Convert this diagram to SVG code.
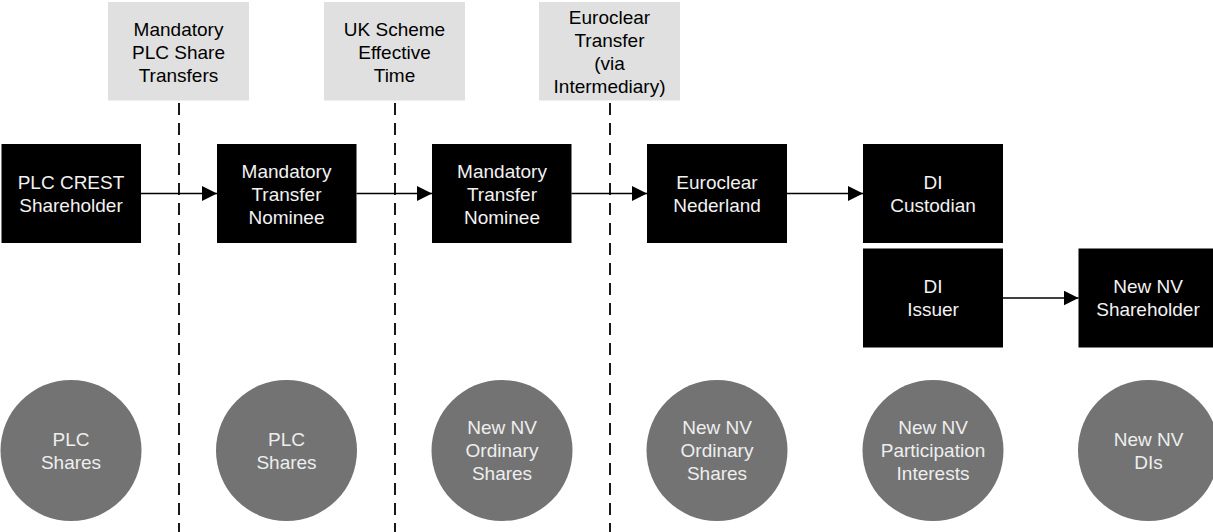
<svg xmlns="http://www.w3.org/2000/svg" width="1213" height="532" viewBox="0 0 1213 532">
<style>
.t{font-family:"Liberation Sans",Arial,sans-serif;font-size:19px;text-anchor:middle}
.box{fill:#000}
.bt{fill:#f2f2f2}
.lbl{fill:#e0e0e0}
.lt{fill:#000}
.circ{fill:#737373}
.ct{fill:#eeeeee}
.conn{stroke:#000;stroke-width:1.5;fill:none}
.dash{stroke:#000;stroke-width:1.8;stroke-dasharray:12 8;fill:none}
</style>
<defs>
<marker id="ah" viewBox="0 0 15 15" refX="15" refY="7.5" markerWidth="15" markerHeight="15" markerUnits="userSpaceOnUse" orient="auto">
<path d="M0,0 L15,7.5 L0,15 z" fill="#000"/>
</marker>
</defs>
<rect width="1213" height="532" fill="#fff"/>

<g id="label-mandatory-transfers">
<rect class="lbl" x="108" y="2" width="141" height="98.5"/>
<text class="t lt" x="178.5" y="36">Mandatory</text>
<text class="t lt" x="178.5" y="59">PLC Share</text>
<text class="t lt" x="178.5" y="82">Transfers</text>
</g>
<g id="label-uk-scheme">
<rect class="lbl" x="324" y="2" width="141" height="98.5"/>
<text class="t lt" x="394.5" y="36">UK Scheme</text>
<text class="t lt" x="394.5" y="59">Effective</text>
<text class="t lt" x="394.5" y="82">Time</text>
</g>
<g id="label-euroclear-transfer">
<rect class="lbl" x="539" y="2" width="141" height="98.5"/>
<text class="t lt" x="609.5" y="24">Euroclear</text>
<text class="t lt" x="609.5" y="47">Transfer</text>
<text class="t lt" x="609.5" y="70">(via</text>
<text class="t lt" x="609.5" y="93">Intermediary)</text>
</g>

<g id="dividers">
<line class="dash" x1="179" y1="103" x2="179" y2="532"/>
<line class="dash" x1="395" y1="103" x2="395" y2="532"/>
<line class="dash" x1="610" y1="103" x2="610" y2="532"/>
</g>

<g id="plc-crest-shareholder">
<rect class="box" x="1.5" y="144" width="139.5" height="99"/>
<text class="t bt" x="71" y="189">PLC CREST</text>
<text class="t bt" x="71" y="212">Shareholder</text>
</g>
<g id="mandatory-transfer-nominee-1">
<rect class="box" x="217" y="144" width="139.5" height="99"/>
<text class="t bt" x="286.5" y="178">Mandatory</text>
<text class="t bt" x="286.5" y="201">Transfer</text>
<text class="t bt" x="286.5" y="224">Nominee</text>
</g>
<g id="mandatory-transfer-nominee-2">
<rect class="box" x="432" y="144" width="139.5" height="99"/>
<text class="t bt" x="502" y="178">Mandatory</text>
<text class="t bt" x="502" y="201">Transfer</text>
<text class="t bt" x="502" y="224">Nominee</text>
</g>
<g id="euroclear-nederland">
<rect class="box" x="647" y="144" width="140" height="99"/>
<text class="t bt" x="717" y="189">Euroclear</text>
<text class="t bt" x="717" y="212">Nederland</text>
</g>
<g id="di-custodian">
<rect class="box" x="863" y="144" width="140" height="99"/>
<text class="t bt" x="933" y="189">DI</text>
<text class="t bt" x="933" y="212">Custodian</text>
</g>
<g id="di-issuer">
<rect class="box" x="863" y="248.5" width="140" height="99"/>
<text class="t bt" x="933" y="293">DI</text>
<text class="t bt" x="933" y="316">Issuer</text>
</g>
<g id="new-nv-shareholder">
<rect class="box" x="1078.5" y="248.5" width="140" height="99"/>
<text class="t bt" x="1148" y="293">New NV</text>
<text class="t bt" x="1148" y="316">Shareholder</text>
</g>

<g id="connectors">
<line class="conn" x1="141" y1="193.5" x2="217" y2="193.5" marker-end="url(#ah)"/>
<line class="conn" x1="356.5" y1="193.5" x2="432" y2="193.5" marker-end="url(#ah)"/>
<line class="conn" x1="571.5" y1="193.5" x2="647" y2="193.5" marker-end="url(#ah)"/>
<line class="conn" x1="787" y1="193.5" x2="863" y2="193.5" marker-end="url(#ah)"/>
<line class="conn" x1="1003" y1="298" x2="1078.5" y2="298" marker-end="url(#ah)"/>
</g>

<g id="asset-plc-shares-1">
<circle class="circ" cx="71" cy="450.5" r="70.5"/>
<text class="t ct" x="71" y="446">PLC</text>
<text class="t ct" x="71" y="469">Shares</text>
</g>
<g id="asset-plc-shares-2">
<circle class="circ" cx="286.5" cy="450.5" r="70.5"/>
<text class="t ct" x="286.5" y="446">PLC</text>
<text class="t ct" x="286.5" y="469">Shares</text>
</g>
<g id="asset-new-nv-ordinary-1">
<circle class="circ" cx="502" cy="450.5" r="70.5"/>
<text class="t ct" x="502" y="434">New NV</text>
<text class="t ct" x="502" y="457">Ordinary</text>
<text class="t ct" x="502" y="480">Shares</text>
</g>
<g id="asset-new-nv-ordinary-2">
<circle class="circ" cx="717" cy="450.5" r="70.5"/>
<text class="t ct" x="717" y="434">New NV</text>
<text class="t ct" x="717" y="457">Ordinary</text>
<text class="t ct" x="717" y="480">Shares</text>
</g>
<g id="asset-new-nv-participation">
<circle class="circ" cx="933" cy="450.5" r="70.5"/>
<text class="t ct" x="933" y="434">New NV</text>
<text class="t ct" x="933" y="457">Participation</text>
<text class="t ct" x="933" y="480">Interests</text>
</g>
<g id="asset-new-nv-dis">
<circle class="circ" cx="1148.5" cy="450.5" r="70.5"/>
<text class="t ct" x="1148.5" y="446">New NV</text>
<text class="t ct" x="1148.5" y="469">DIs</text>
</g>
</svg>
